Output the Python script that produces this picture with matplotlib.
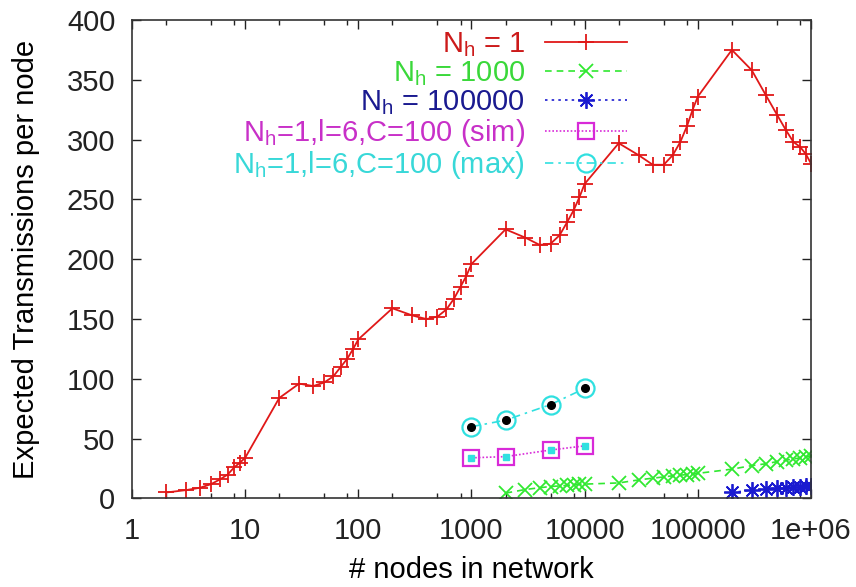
"""
expected transmissions per node vs network size (log x)
gnuplot-style look: inward ticks on all sides, legend text right aligned
"""

import numpy as np
import matplotlib.pyplot as plt
from matplotlib.ticker import LogLocator, NullFormatter

plt.rcParams['font.family'] = ['Liberation Sans', 'DejaVu Sans']
plt.rcParams['mathtext.fontset'] = 'custom'
plt.rcParams['mathtext.rm'] = 'Liberation Sans'
plt.rcParams['mathtext.it'] = 'Liberation Sans'
plt.rcParams['font.size'] = 21

# N_h = 1
n_nh1 = [2, 3, 4, 5, 6, 7, 8, 9, 10,
         20, 30, 40, 50, 60, 70, 80, 90, 100,
         200, 300, 400, 500, 600, 700, 800, 900, 1000,
         2000, 3000, 4000, 5000, 6000, 7000, 8000, 9000, 10000,
         20000, 30000, 40000, 50000, 60000, 70000, 80000, 90000, 100000,
         200000, 300000, 400000, 500000, 600000, 700000, 800000, 900000, 1000000]
tx_nh1 = [5, 7, 9, 12, 16, 20, 26, 30, 34,
          84, 96, 94, 97, 102, 110, 117, 125, 133,
          159, 153, 150, 152, 158, 167, 177, 186, 196,
          225, 218, 212, 213, 220, 231, 241, 252, 263,
          297, 287, 279, 279, 287, 298, 311, 325, 336,
          375, 358, 337, 321, 308, 298, 294, 288, 280]

# N_h = 1000
n_nh1000 = [2000, 3000, 4000, 5000, 6000, 7000, 8000, 9000, 10000,
            20000, 30000, 40000, 50000, 60000, 70000, 80000, 90000, 100000,
            200000, 300000, 400000, 500000, 600000, 700000, 800000, 900000, 1000000]
tx_nh1000 = [4.5, 7.5, 9, 10, 10.5, 11, 11.5, 12, 12,
             13, 15.5, 17, 18, 19, 19.5, 20, 20.5, 21,
             24.5, 27.5, 29, 30.8, 32, 33, 34, 35, 35.5]

# N_h = 100000
n_nh1e5 = [200000, 300000, 400000, 500000, 600000, 700000, 800000, 900000, 1000000]
tx_nh1e5 = [5, 7, 8, 8.7, 9, 9.5, 10, 10.4, 10.6]

# N_h=1, l=6, C=100 : simulation and max
n_sim = [1000, 2000, 5000, 10000]
tx_sim = [34, 35, 40.5, 44]
tx_max = [60, 65.5, 78.5, 92]

xticks = [1, 10, 100, 1000, 10000, 100000, 1000000]
xticklabels = ['1', '10', '100', '1000', '10000', '100000', '1e+06']

red = '#e01818'
green = '#30e830'
blue = '#1a1ad0'
magenta = '#d82ad8'
cyan = '#30e0e0'

fig = plt.figure(figsize=(8.56, 5.87), dpi=100)
ax = fig.add_axes([0.1542, 0.1508, 0.7932, 0.8151])

ax.plot(n_nh1, tx_nh1, color=red, lw=1.3, marker='+', ms=11, mew=1.3,
        label=r'N$_\mathrm{h}$ = 1')
ax.plot(n_nh1000, tx_nh1000, color=green, lw=1.2, ls=(0, (4, 3)),
        marker='x', ms=10, mew=1.3, label=r'N$_\mathrm{h}$ = 1000')
ax.plot(n_nh1e5, tx_nh1e5, color=blue, lw=1.2, ls=(0, (1.5, 2.5)),
        marker=(8, 2, 0), ms=12, mew=1.3, label=r'N$_\mathrm{h}$ = 100000')
ax.plot(n_sim, tx_sim, color=magenta, lw=1.2, ls=(0, (1, 1.2)),
        marker='s', ms=12, mfc='none', mew=1.6,
        label=r'N$_\mathrm{h}$=1,l=6,C=100 (sim)')
ax.plot(n_sim, tx_max, color=cyan, lw=1.2, ls=(0, (5, 3, 1.5, 3)),
        marker='o', ms=13, mfc='none', mew=1.6,
        label=r'N$_\mathrm{h}$=1,l=6,C=100 (max)')
# inner points
ax.plot(n_sim, tx_sim, ls='none', marker='s', ms=5, color=cyan)
ax.plot(n_sim, tx_max, ls='none', marker='o', ms=5.5, color='black')

ax.set_xscale('log')
ax.set_xlim(1, 1e6)
ax.set_ylim(0, 400)
ax.set_xticks(xticks)
ax.set_xticklabels(xticklabels)
ax.xaxis.set_minor_locator(LogLocator(base=10, subs=(2, 5, 8)))
ax.xaxis.set_minor_formatter(NullFormatter())
ax.set_yticks(np.arange(0, 401, 50))

ax.tick_params(which='both', direction='in', top=True, right=True, colors='#222222')
ax.tick_params(which='major', length=6.5, width=1.0)
ax.tick_params(which='minor', length=3.5, width=1.0)
ax.tick_params(axis='y', pad=12)
ax.tick_params(axis='x', pad=13)
for s in ax.spines.values():
    s.set_color('#333333')
    s.set_linewidth(1.2)

ax.set_xlabel('# nodes in network')
ax.set_ylabel('Expected Transmissions per node')
ax.xaxis.set_label_coords(0.5, -0.121)
ax.yaxis.set_label_coords(-0.135, 0.5)

leg = ax.legend(loc='upper right', bbox_to_anchor=(0.742, 0.996), frameon=False,
                markerfirst=False, handlelength=2.8, handletextpad=0.7,
                labelspacing=0.0, borderaxespad=0.1, borderpad=0.2)
text_colors = ['#cc1a1a', '#3ad83a', '#1a1a90', '#c830c8', '#38d8d8']
for t, c in zip(leg.get_texts(), text_colors):
    t.set_color(c)

fig.savefig('out.png', dpi=100)
